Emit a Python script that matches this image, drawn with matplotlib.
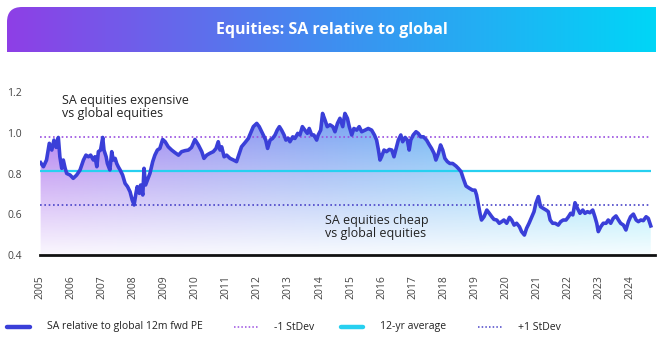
import numpy as np
import matplotlib
matplotlib.use("Agg")
import matplotlib.pyplot as plt
from matplotlib.path import Path
from matplotlib.patches import PathPatch
from matplotlib.lines import Line2D
from matplotlib.colors import to_rgb

plt.rcParams['font.family'] = ['Open Sans', 'DejaVu Sans']

# SA 12m forward PE relative to global (decimal year, ratio)
years = [
    2005.02, 2005.11, 2005.21, 2005.30, 2005.38, 2005.45, 2005.52, 2005.59, 2005.64, 2005.70,
    2005.75, 2005.81, 2005.86, 2005.97, 2006.07, 2006.18, 2006.29, 2006.40, 2006.48, 2006.56,
    2006.63, 2006.72, 2006.77, 2006.83, 2006.88, 2006.95, 2007.02, 2007.06, 2007.13, 2007.17,
    2007.25, 2007.31, 2007.36, 2007.42, 2007.47, 2007.52, 2007.58, 2007.66, 2007.74, 2007.82,
    2007.90, 2007.97, 2008.03, 2008.09, 2008.13, 2008.20, 2008.24, 2008.31, 2008.35, 2008.40,
    2008.46, 2008.54, 2008.63, 2008.70, 2008.78, 2008.86, 2008.95, 2009.03, 2009.13, 2009.24,
    2009.35, 2009.46, 2009.56, 2009.67, 2009.78, 2009.88, 2009.99, 2010.10, 2010.21, 2010.28,
    2010.37, 2010.47, 2010.58, 2010.67, 2010.74, 2010.80, 2010.85, 2010.93, 2011.01, 2011.12,
    2011.23, 2011.33, 2011.42, 2011.49, 2011.60, 2011.71, 2011.78, 2011.87, 2011.98, 2012.06,
    2012.14, 2012.19, 2012.27, 2012.33, 2012.41, 2012.49, 2012.57, 2012.64, 2012.71, 2012.78,
    2012.86, 2012.92, 2013.00, 2013.05, 2013.14, 2013.21, 2013.30, 2013.37, 2013.45, 2013.53,
    2013.61, 2013.67, 2013.75, 2013.82, 2013.91, 2013.96, 2014.04, 2014.10, 2014.18, 2014.25,
    2014.34, 2014.43, 2014.50, 2014.58, 2014.66, 2014.75, 2014.82, 2014.90, 2014.96, 2015.04,
    2015.11, 2015.20, 2015.28, 2015.36, 2015.47, 2015.57, 2015.68, 2015.77, 2015.84, 2015.90,
    2015.95, 2016.00, 2016.08, 2016.16, 2016.25, 2016.33, 2016.40, 2016.47, 2016.54, 2016.62,
    2016.68, 2016.76, 2016.83, 2016.89, 2016.94, 2017.02, 2017.11, 2017.18, 2017.26, 2017.35,
    2017.45, 2017.54, 2017.61, 2017.69, 2017.75, 2017.83, 2017.90, 2017.97, 2018.04, 2018.12,
    2018.20, 2018.29, 2018.40, 2018.47, 2018.56, 2018.63, 2018.72, 2018.83, 2018.93, 2019.01,
    2019.06, 2019.12, 2019.17, 2019.22, 2019.30, 2019.39, 2019.47, 2019.55, 2019.62, 2019.71,
    2019.79, 2019.87, 2019.94, 2020.03, 2020.12, 2020.19, 2020.27, 2020.35, 2020.44, 2020.51,
    2020.60, 2020.67, 2020.75, 2020.84, 2020.91, 2020.97, 2021.05, 2021.12, 2021.21, 2021.30,
    2021.37, 2021.43, 2021.51, 2021.59, 2021.69, 2021.77, 2021.85, 2021.94, 2022.02, 2022.09,
    2022.16, 2022.23, 2022.31, 2022.39, 2022.48, 2022.55, 2022.63, 2022.71, 2022.80, 2022.87,
    2022.93, 2022.98, 2023.06, 2023.14, 2023.23, 2023.30, 2023.38, 2023.46, 2023.55, 2023.63,
    2023.70, 2023.79, 2023.87, 2023.95, 2024.02, 2024.11, 2024.20, 2024.27, 2024.35, 2024.43,
    2024.52, 2024.59, 2024.67,
]
ratio = [
    0.854, 0.834, 0.867, 0.949, 0.916, 0.965, 0.929, 0.978, 0.883, 0.826,
    0.867, 0.826, 0.801, 0.793, 0.777, 0.793, 0.818, 0.867, 0.891, 0.883,
    0.891, 0.867, 0.883, 0.834, 0.908, 0.916, 0.978, 0.916, 0.883, 0.850,
    0.818, 0.908, 0.867, 0.875, 0.850, 0.834, 0.818, 0.793, 0.752, 0.736,
    0.711, 0.670, 0.646, 0.703, 0.736, 0.703, 0.744, 0.695, 0.826, 0.744,
    0.769, 0.801, 0.859, 0.891, 0.916, 0.924, 0.968, 0.957, 0.932, 0.916,
    0.903, 0.891, 0.908, 0.913, 0.916, 0.929, 0.968, 0.941, 0.908, 0.875,
    0.891, 0.900, 0.908, 0.924, 0.957, 0.916, 0.932, 0.883, 0.891, 0.875,
    0.867, 0.859, 0.900, 0.932, 0.952, 0.973, 0.998, 1.031, 1.047, 1.031,
    1.006, 0.990, 0.965, 0.924, 0.965, 0.973, 0.990, 1.014, 1.031, 1.014,
    0.990, 0.965, 0.973, 0.957, 0.981, 0.973, 0.998, 0.990, 1.031, 1.014,
    0.998, 1.022, 0.990, 0.990, 0.965, 0.990, 1.014, 1.096, 1.063, 1.031,
    1.040, 1.031, 1.006, 1.047, 1.072, 1.031, 1.096, 1.072, 1.031, 0.990,
    1.022, 1.014, 1.031, 1.006, 1.014, 1.022, 1.014, 0.990, 0.965, 0.916,
    0.867, 0.883, 0.916, 0.908, 0.919, 0.916, 0.883, 0.924, 0.965, 0.990,
    0.957, 0.978, 0.965, 0.916, 0.965, 0.990, 1.006, 0.998, 0.981, 0.981,
    0.965, 0.941, 0.924, 0.900, 0.867, 0.900, 0.941, 0.916, 0.875, 0.859,
    0.850, 0.850, 0.837, 0.826, 0.810, 0.777, 0.739, 0.728, 0.719, 0.719,
    0.695, 0.646, 0.605, 0.572, 0.588, 0.621, 0.605, 0.588, 0.575, 0.572,
    0.556, 0.564, 0.572, 0.556, 0.585, 0.572, 0.547, 0.556, 0.539, 0.515,
    0.498, 0.531, 0.556, 0.588, 0.613, 0.654, 0.687, 0.638, 0.629, 0.621,
    0.613, 0.572, 0.556, 0.556, 0.547, 0.564, 0.572, 0.572, 0.588, 0.605,
    0.597, 0.657, 0.629, 0.605, 0.621, 0.605, 0.613, 0.608, 0.621, 0.588,
    0.556, 0.515, 0.539, 0.556, 0.556, 0.572, 0.556, 0.580, 0.592, 0.572,
    0.556, 0.547, 0.523, 0.564, 0.588, 0.601, 0.572, 0.564, 0.572, 0.569,
    0.588, 0.580, 0.543,
]

avg_12yr = 0.814
upper_band = 0.981   # shown as "-1 StDev"
lower_band = 0.647   # shown as "+1 StDev"

year_ticks = list(range(2005, 2025))
y_ticks = [0.4, 0.6, 0.8, 1.0, 1.2]

title = "Equities: SA relative to global"
legend_labels = ["SA relative to global 12m fwd PE", "-1 StDev", "12-yr average", "+1 StDev"]

C_LINE = "#3a3fd8"
C_AVG = "#27d0f0"
C_UP = "#9a4ee0"
C_LOW = "#4a44c8"
C_TEXT = "#222222"
C_TICK = "#444444"

W, H = 660, 342
fig = plt.figure(figsize=(W / 100, H / 100), dpi=100)
fig.patch.set_facecolor("white")

def fx(px):
    return px / W

def fy(py):
    return 1 - py / H

# ---- title banner with horizontal gradient and rounded top-left corner
bx0, bx1, by0, by1 = 7, 656, 7, 52
bax = fig.add_axes([fx(bx0), fy(by1), fx(bx1 - bx0), (by1 - by0) / H])
bax.set_xlim(0, 1)
bax.set_ylim(0, 1)
bax.axis("off")
c0 = np.array(to_rgb("#8e3fe6"))
c1 = np.array(to_rgb("#3f8ef0"))
c2 = np.array(to_rgb("#00d6f7"))
t = np.linspace(0, 1, 400)[:, None]
grad = np.where(t < 0.5, c0 + (c1 - c0) * (t / 0.5), c1 + (c2 - c1) * ((t - 0.5) / 0.5))
bimg = bax.imshow(grad[None, :, :], extent=[0, 1, 0, 1], aspect="auto", origin="lower")
rx = 15 / (bx1 - bx0)
ry = 15 / (by1 - by0)
verts = [(0, 0), (1, 0), (1, 1), (rx, 1), (0, 1), (0, 1 - ry), (0, 0)]
codes = [Path.MOVETO, Path.LINETO, Path.LINETO, Path.LINETO, Path.CURVE3, Path.CURVE3, Path.CLOSEPOLY]
clip = PathPatch(Path(verts, codes), transform=bax.transAxes, facecolor="none", edgecolor="none")
bax.add_patch(clip)
bimg.set_clip_path(clip)
bax.text(0.5, 0.5, title, transform=bax.transAxes, ha="center", va="center",
         color="white", fontsize=11.5, fontweight="bold")

# ---- main plot
x_left, x_right = 2005.0, 2024.8
y_bot, y_top = 0.4, 1.25
ax_l, ax_r = 40, 654.8
py_04 = 255.0
px_per_unit = 203.4
ax_top_px = py_04 - (y_top - y_bot) * px_per_unit
ax = fig.add_axes([fx(ax_l), fy(py_04), fx(ax_r - ax_l), (py_04 - ax_top_px) / H])
ax.set_xlim(x_left, x_right)
ax.set_ylim(y_bot, y_top)
for s in ["top", "right", "left"]:
    ax.spines[s].set_visible(False)
ax.spines["bottom"].set_color("#111111")
ax.spines["bottom"].set_linewidth(2.0)
ax.set_facecolor("none")

# gradient fill below the series
poly = ax.fill_between(years, ratio, y_bot, facecolor="none", edgecolor="none")
nx, ny = 500, 300
xs = np.linspace(0, 1, nx)
ys = np.linspace(y_bot, y_top, ny)
f0 = np.array(to_rgb("#9246e8"))
f1 = np.array(to_rgb("#4a86ee"))
f2 = np.array(to_rgb("#1fcff6"))
xs_c = xs[:, None]
horiz = np.where(xs_c < 0.5, f0 + (f1 - f0) * (xs_c / 0.5), f1 + (f2 - f1) * ((xs_c - 0.5) / 0.5))
alpha = np.clip(0.04 + (ys - y_bot) / (1.15 - y_bot) * 0.78, 0, 0.85)
rgba = np.zeros((ny, nx, 4))
rgba[:, :, :3] = horiz[None, :, :]
rgba[:, :, 3] = alpha[:, None]
fimg = ax.imshow(rgba, extent=[x_left, x_right, y_bot, y_top], origin="lower",
                 aspect="auto", zorder=1, interpolation="bilinear")
fimg.set_clip_path(poly.get_paths()[0], transform=ax.transData)

x_start, x_end = years[0] - 0.02, years[-1]
ax.hlines(avg_12yr, x_start, x_end, color=C_AVG, lw=1.6, zorder=2)
ax.hlines(upper_band, x_start, x_end, color=C_UP, lw=1.2, linestyles=(0, (1, 1.6)), zorder=2)
ax.hlines(lower_band, x_start, x_end, color=C_LOW, lw=1.2, linestyles=(0, (1, 1.6)), zorder=2)
ax.plot(years, ratio, color=C_LINE, lw=2.6, solid_joinstyle="round", zorder=3)

ax.set_yticks(y_ticks)
ax.set_yticklabels([f"{v:.1f}" for v in y_ticks])
ax.set_xticks(year_ticks)
ax.set_xticklabels([str(y) for y in year_ticks], rotation=90)
ax.tick_params(axis="y", length=0, pad=13, labelsize=7.5, labelcolor=C_TICK)
ax.tick_params(axis="x", length=0, pad=14.5, labelsize=7.5, labelcolor=C_TICK)

ax.text(2005.72, 1.129, "SA equities expensive\nvs global equities", ha="left", va="center",
        fontsize=9, color=C_TEXT, linespacing=1.0)
ax.text(2014.18, 0.538, "SA equities cheap\nvs global equities", ha="left", va="center",
        fontsize=9, color=C_TEXT, linespacing=1.0)

# ---- legend
ly = fy(327)
entries = [
    (7, 30, 47, dict(color=C_LINE, lw=3.2, solid_capstyle="round")),
    (234, 258, 274, dict(color=C_UP, lw=1.1, linestyle=(0, (1, 1.4)))),
    (341, 363, 380, dict(color=C_AVG, lw=3.2, solid_capstyle="round")),
    (478, 502, 518, dict(color=C_LOW, lw=1.1, linestyle=(0, (1, 1.4)))),
]
for (a, b, tx, kw), lab in zip(entries, legend_labels):
    fig.add_artist(Line2D([fx(a), fx(b)], [ly, ly], transform=fig.transFigure, **kw))
    fig.text(fx(tx), ly, lab, ha="left", va="center", fontsize=7.5, color=C_TEXT)

fig.savefig("out.png", dpi=100, facecolor="white")
